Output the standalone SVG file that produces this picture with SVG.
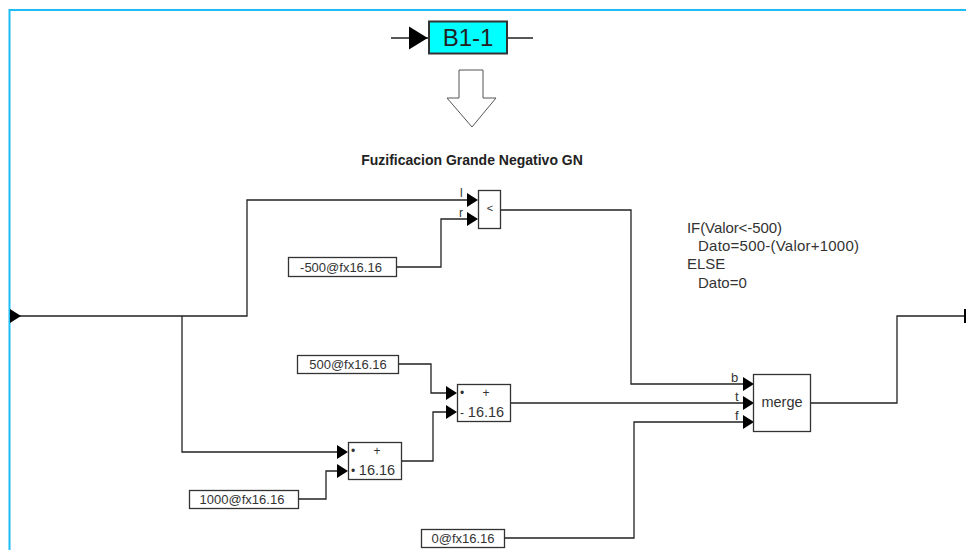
<svg xmlns="http://www.w3.org/2000/svg" width="966" height="550" viewBox="0 0 966 550">
<defs>
<style>
.w{fill:none;stroke:#222;stroke-width:1.3}
.b{fill:#fff;stroke:#333;stroke-width:1.3}
.t{font-family:"Liberation Sans",Arial,sans-serif;font-size:13px;fill:#333}
.a{font-family:"Liberation Sans",Arial,sans-serif;font-size:14.5px;fill:#333}
.n{font-family:"Liberation Sans",Arial,sans-serif;font-size:15px;fill:#333}
.s{font-family:"Liberation Sans",Arial,sans-serif;font-size:12px;fill:#333}
.m{text-anchor:middle}
</style>
<polygon id="ah" points="0,-7 11,0 0,7" fill="#000"/>
</defs>
<rect width="966" height="550" fill="#fff"/>
<path d="M966 10H9.500V550" fill="none" stroke="#1cbcf5" stroke-width="2"/>
<g id="connectors">
<path class="w" d="M391 38H428M507 38H533"/>
<path class="w" d="M12 316H247V200H467"/>
<path class="w" d="M182 316V452H337"/>
<path class="w" d="M396 267H441V219H467"/>
<path class="w" d="M500 210H631V384H743"/>
<path class="w" d="M398 364H431V393H446"/>
<path class="w" d="M401 461H433V412H446"/>
<path class="w" d="M298 499H326V471H337"/>
<path class="w" d="M504 538H634V422H743"/>
<path class="w" d="M510 403H743"/>
<path class="w" d="M811 403H897V316H964"/>
<use href="#ah" transform="translate(409,38) scale(1.7,1.65)"/>
<use href="#ah" x="467" y="200"/>
<use href="#ah" x="467" y="219"/>
<use href="#ah" x="446" y="393"/>
<use href="#ah" x="446" y="412"/>
<use href="#ah" x="337" y="452"/>
<use href="#ah" x="337" y="471"/>
<use href="#ah" x="743" y="384"/>
<use href="#ah" x="743" y="403"/>
<use href="#ah" x="743" y="422"/>
<use href="#ah" x="10" y="316"/>
<rect x="964" y="309" width="2" height="14" fill="#000"/>
</g>
<g id="b1-1">
<rect x="429" y="21.500" width="78" height="32" fill="#00ffff" stroke="#333" stroke-width="2"/>
<text x="468" y="45.500" class="m" font-family="'Liberation Sans',Arial,sans-serif" font-size="24" fill="#222">B1-1</text>
</g>
<g id="big-arrow">
<polygon points="459,70 483,70 483,98 496,98 472,127 447,98 459,98" fill="#fff" stroke="#555" stroke-width="1"/>
</g>
<g id="title">
<text x="472" y="165" class="m" font-family="'Liberation Sans',Arial,sans-serif" font-size="14" font-weight="bold" fill="#222">Fuzificacion Grande Negativo GN</text>
</g>
<g id="compare">
<rect class="b" x="478.500" y="190.500" width="22" height="38"/>
<text class="s m" x="490" y="212" style="font-size:11px">&lt;</text>
<text class="s" x="460" y="197">l</text>
<text class="s" x="459" y="217">r</text>
</g>
<g id="const-500n">
<rect class="b" x="288.500" y="257.500" width="108" height="19"/>
<text class="t m" x="341" y="272">-500@fx16.16</text>
</g>
<g id="const-500">
<rect class="b" x="297.500" y="355.500" width="101" height="18"/>
<text class="t m" x="348" y="369">500@fx16.16</text>
</g>
<g id="const-1000">
<rect class="b" x="189.500" y="490.500" width="109" height="18"/>
<text class="t m" x="242" y="504">1000@fx16.16</text>
</g>
<g id="const-0">
<rect class="b" x="421.500" y="529.500" width="83" height="18"/>
<text class="t m" x="463" y="543">0@fx16.16</text>
</g>
<g id="add2">
<rect class="b" x="457.500" y="384.500" width="53" height="37"/>
<text class="s" x="460" y="397">•</text><text class="s m" x="486" y="397">+</text>
<text class="s" x="460" y="417">-</text><text class="a m" x="486" y="417">16.16</text>
</g>
<g id="add1">
<rect class="b" x="348.500" y="442.500" width="53" height="37"/>
<text class="s" x="351" y="455">•</text><text class="s m" x="377" y="455">+</text>
<text class="s" x="351" y="475">•</text><text class="a m" x="377" y="475">16.16</text>
</g>
<g id="merge">
<rect class="b" x="753.500" y="374.500" width="57" height="57"/>
<text class="a m" x="782" y="407">merge</text>
<text class="s" x="731" y="382" style="font-size:13px">b</text>
<text class="s" x="735" y="401" style="font-size:13px">t</text>
<text class="s" x="735" y="420" style="font-size:13px">f</text>
</g>
<g id="note">
<text class="n" x="687" y="233" textLength="95">IF(Valor&lt;-500)</text>
<text class="n" x="698" y="251" textLength="161">Dato=500-(Valor+1000)</text>
<text class="n" x="687" y="269">ELSE</text>
<text class="n" x="698" y="288">Dato=0</text>
</g>
</svg>
